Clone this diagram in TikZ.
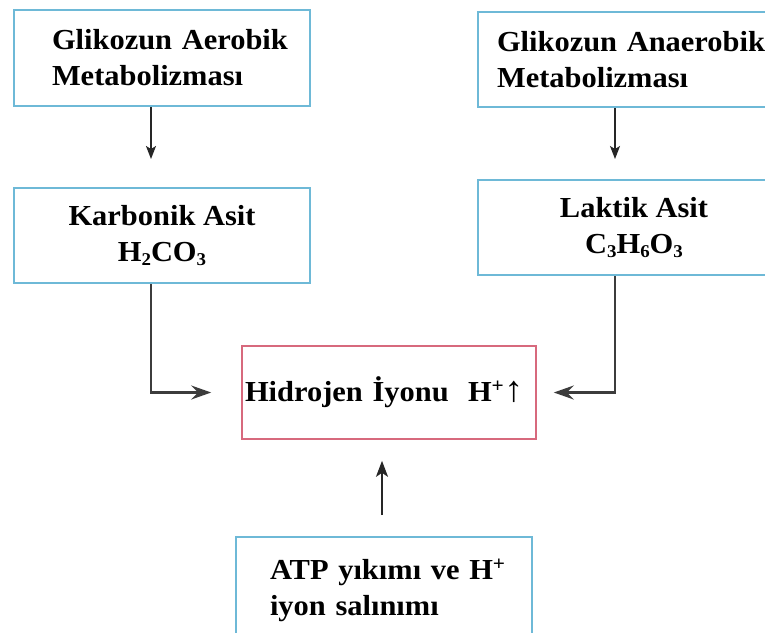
\documentclass[tikz,border=0pt]{standalone}
\usepackage{fontspec}
\setmainfont{Liberation Serif}[FakeStretch=1.05]
\usetikzlibrary{arrows.meta}
\definecolor{boxblue}{RGB}{110,185,215}
\definecolor{boxred}{RGB}{215,105,125}
\definecolor{arrgray}{RGB}{60,60,60}
\newcommand{\chemsub}[1]{\raisebox{-0.12em}{\fontsize{18}{18}\selectfont #1}}
\newcommand{\uparr}{\raisebox{0.0em}{\fontsize{36}{36}\selectfont\mdseries ↑}}
\begin{document}
\begin{tikzpicture}[x=1pt,y=-1pt,
  every node/.style={font=\fontsize{29}{36}\selectfont\bfseries},
  bluebox/.style={draw=boxblue, line width=2pt, fill=white, inner sep=0pt},
  redbox/.style={draw=boxred, line width=1.6pt, inner sep=0pt},
  thinarrow/.style={draw=black!85, line width=1.4pt, -{Stealth[length=13pt,width=10pt,inset=3pt]}},
  uparrow/.style={draw=black!85, line width=1.8pt, -{Stealth[length=16pt,width=12pt,inset=4pt]}},
  thickarrow/.style={draw=arrgray, line width=2.6pt, -{Stealth[length=20pt,width=14pt,inset=7pt]}},
]
\useasboundingbox (0,0) rectangle (765,632);
\fill[white] (0,0) rectangle (765,632);
\node[bluebox, minimum width=296, minimum height=96, text width=220, align=left] (aer) at (162,58) {\hbox{Glikozun Aerobik}\\Metabolizması};
\node[bluebox, minimum width=296, minimum height=95, align=center] (karb) at (162,235.5) {Karbonik Asit\\H\chemsub{2}CO\chemsub{3}};
\node[bluebox, minimum width=312, minimum height=95, text width=274, align=left] (anaer) at (634,59.5) {\hbox{Glikozun Anaerobik}\\Metabolizması};
\node[bluebox, minimum width=312, minimum height=95, align=center] (lakt) at (634,227.5) {Laktik Asit\\C\chemsub{3}H\chemsub{6}O\chemsub{3}};
\node[redbox, minimum width=294, minimum height=93, text width=288, align=left] (hid) at (389,392.5) {\hbox{Hidrojen İyonu\ \ H\textsuperscript{+}\uparr}};
\node[bluebox, minimum width=296, minimum height=106, text width=228, align=left] (atp) at (384,590) {\hbox{ATP yıkımı ve H\textsuperscript{+}}\\iyon salınımı};
\draw[thinarrow, shorten >=28pt] ([xshift=-11pt]aer.south) -- ([xshift=-11pt]karb.north);
\draw[thinarrow, shorten >=20pt] ([xshift=-19pt]anaer.south) -- ([xshift=-19pt]lakt.north);
\draw[thickarrow, shorten >=30pt] ([xshift=-11pt]karb.south) |- (hid.west);
\draw[thickarrow, shorten >=17pt] ([xshift=-19pt]lakt.south) |- (hid.east);
\draw[uparrow, shorten <=21pt, shorten >=21pt] ([xshift=-2pt]atp.north) -- ([xshift=-2pt]atp.north |- hid.south);
\end{tikzpicture}
\end{document}
